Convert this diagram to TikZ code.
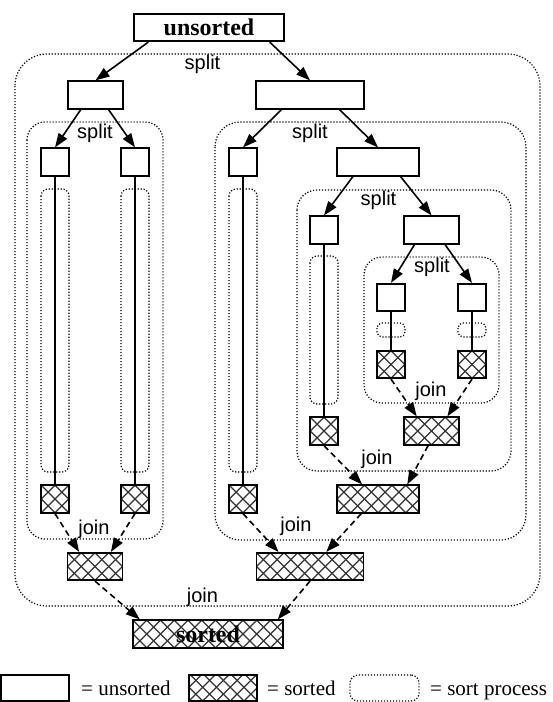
\documentclass[tikz,border=0pt]{standalone}
\usepackage{fontspec}
\setmainfont{Liberation Serif}
\newfontfamily\hvfont{Liberation Sans}
\usetikzlibrary{arrows.meta,calc}
\tikzset{
  hatchln/.style={line width=1.2pt, draw=black!80},
  hatchfill/.style={path picture={
    \foreach \k in {-4,...,14}{
      \draw[hatchln] ([xshift=\k*13.75pt]path picture bounding box.south west) -- ++(40pt,40pt);
      \draw[hatchln] ([xshift=\k*13.75pt]path picture bounding box.south west) -- ++(-40pt,40pt);
    }}},
  ubox/.style={draw=black, line width=1.7pt, fill=white, inner sep=0pt, minimum height=27.5pt, minimum width=27.5pt},
  sbox/.style={ubox, hatchfill},
  proc/.style={draw=black, line width=1.2pt, dash pattern=on 1.2pt off 1.8pt},
  lbl/.style={font=\hvfont\fontsize{20}{22}\selectfont, inner sep=0pt},
  legtxt/.style={font=\fontsize{21}{24}\selectfont, inner sep=0pt, anchor=base west},
  bigtxt/.style={font=\bfseries\fontsize{24}{26}\selectfont},
  splitarr/.style={line width=1.6pt, -{Triangle[length=14pt,width=10pt]}},
  joinarr/.style={splitarr, dash pattern=on 6pt off 4pt},
  vline/.style={line width=1.6pt},
}
\begin{document}
\begin{tikzpicture}[x=1pt,y=-1pt]
\useasboundingbox (0,0) rectangle (553,702);
% sort processes
\draw[proc, rounded corners=32pt] (15,54) rectangle (540,606);
\draw[proc, rounded corners=18pt] (27,122) rectangle (163,539);
\draw[proc, rounded corners=25pt] (215,122) rectangle (526,540);
\draw[proc, rounded corners=20pt] (297,190) rectangle (511,471);
\draw[proc, rounded corners=18pt] (364,257) rectangle (499,403);
\draw[proc, rounded corners=7pt] (41,189) rectangle (69,472);
\draw[proc, rounded corners=7pt] (121,189) rectangle (149,472);
\draw[proc, rounded corners=7pt] (229,189) rectangle (257,472);
\draw[proc, rounded corners=7pt] (310,256) rectangle (338,404);
\draw[proc, rounded corners=5pt] (377,323) rectangle (405,337);
\draw[proc, rounded corners=5pt] (458,323) rectangle (486,337);
% unsorted boxes
\node[ubox, minimum width=150pt, bigtxt] (top) at (209,27.5) {unsorted};
\node[ubox, minimum width=55pt] (a) at (95.5,95) {};
\node[ubox, minimum width=108pt] (b) at (310,95) {};
\node[ubox] (aa) at (55,162) {};
\node[ubox] (ab) at (135,162) {};
\node[ubox] (ba) at (243,162) {};
\node[ubox, minimum width=82pt] (bb) at (378,162) {};
\node[ubox] (bba) at (324,230) {};
\node[ubox, minimum width=55pt] (bbb) at (431.5,230) {};
\node[ubox] (bbba) at (391,297.5) {};
\node[ubox] (bbbb) at (472,297.5) {};
% sorted boxes
\node[sbox] (bbbas) at (391,364.5) {};
\node[sbox] (bbbbs) at (472,364.5) {};
\node[sbox] (bbas) at (324,431) {};
\node[sbox, minimum width=55pt] (bbbs) at (431.5,431) {};
\node[sbox] (aas) at (55,499) {};
\node[sbox] (abs) at (135,499) {};
\node[sbox] (bas) at (243,499) {};
\node[sbox, minimum width=82pt] (bbs) at (378,499) {};
\node[sbox, minimum width=55pt] (as) at (95,566.5) {};
\node[sbox, minimum width=107pt] (bs) at (310,566.5) {};
\node[sbox, minimum width=150pt, bigtxt] (fin) at (208,634) {sorted};
% split arrows
\draw[splitarr] ($(top.south west)!0.1!(top.south east)$) -- (a.north);
\draw[splitarr] ($(top.south west)!0.9!(top.south east)$) -- (b.north);
\draw[splitarr] ($(a.south west)!0.24!(a.south east)$) -- (aa.north);
\draw[splitarr] ($(a.south west)!0.73!(a.south east)$) -- (ab.north);
\draw[splitarr] ($(b.south west)!0.24!(b.south east)$) -- (ba.north);
\draw[splitarr] ($(b.south west)!0.77!(b.south east)$) -- (bb.north);
\draw[splitarr] ($(bb.south west)!0.2!(bb.south east)$) -- (bba.north);
\draw[splitarr] ($(bb.south west)!0.77!(bb.south east)$) -- (bbb.north);
\draw[splitarr] ($(bbb.south west)!0.2!(bbb.south east)$) -- (bbba.north);
\draw[splitarr] ($(bbb.south west)!0.74!(bbb.south east)$) -- (bbbb.north);
% sort in place
\draw[vline] (aa.south) -- (aas.north);
\draw[vline] (ab.south) -- (abs.north);
\draw[vline] (ba.south) -- (bas.north);
\draw[vline] (bba.south) -- (bbas.north);
\draw[vline] (bbba.south) -- (bbbas.north);
\draw[vline] (bbbb.south) -- (bbbbs.north);
% join arrows
\draw[joinarr] (bbbas.south) -- ($(bbbs.north west)!0.24!(bbbs.north east)$);
\draw[joinarr] (bbbbs.south) -- ($(bbbs.north west)!0.78!(bbbs.north east)$);
\draw[joinarr] (bbas.south) -- ($(bbs.north west)!0.31!(bbs.north east)$);
\draw[joinarr] ($(bbbs.south west)!0.44!(bbbs.south east)$) -- ($(bbs.north west)!0.85!(bbs.north east)$);
\draw[joinarr] (aas.south) -- ($(as.north west)!0.22!(as.north east)$);
\draw[joinarr] (abs.south) -- ($(as.north west)!0.78!(as.north east)$);
\draw[joinarr] (bas.south) -- ($(bs.north west)!0.21!(bs.north east)$);
\draw[joinarr] ($(bbs.south west)!0.3!(bbs.south east)$) -- ($(bs.north west)!0.65!(bs.north east)$);
\draw[joinarr] (as.south) -- ($(fin.north west)!0.05!(fin.north east)$);
\draw[joinarr] (bs.south) -- ($(fin.north west)!0.96!(fin.north east)$);
% labels
\node[lbl] (s1) at (202.5,64.5) {split};
\node[lbl] (s2) at (95,133.5) {split};
\node[lbl] (s3) at (310,133) {split};
\node[lbl] (s4) at (378.5,200) {split};
\node[lbl] (s5) at (432,267) {split};
\node[lbl] (j1) at (94,529) {join};
\node[lbl] (j2) at (296,526.5) {join};
\node[lbl] (j3) at (377,459.5) {join};
\node[lbl] (j4) at (431,391) {join};
\node[lbl] (j5) at (202.5,597.5) {join};
% legend
\node[ubox, minimum width=68pt, minimum height=26pt] (lgu) at (35,688) {};
\node[legtxt] (lgut) at (81,695) {= unsorted};
\node[sbox, minimum width=68pt, minimum height=26pt] (lgs) at (223,688) {};
\node[legtxt] (lgst) at (267,695) {= sorted};
\node[proc, rounded corners=8pt, minimum width=69pt, minimum height=26pt, inner sep=0pt] (lgp) at (384.5,688) {};
\node[legtxt] (lgpt) at (430,695) {= sort process};
\end{tikzpicture}
\end{document}
